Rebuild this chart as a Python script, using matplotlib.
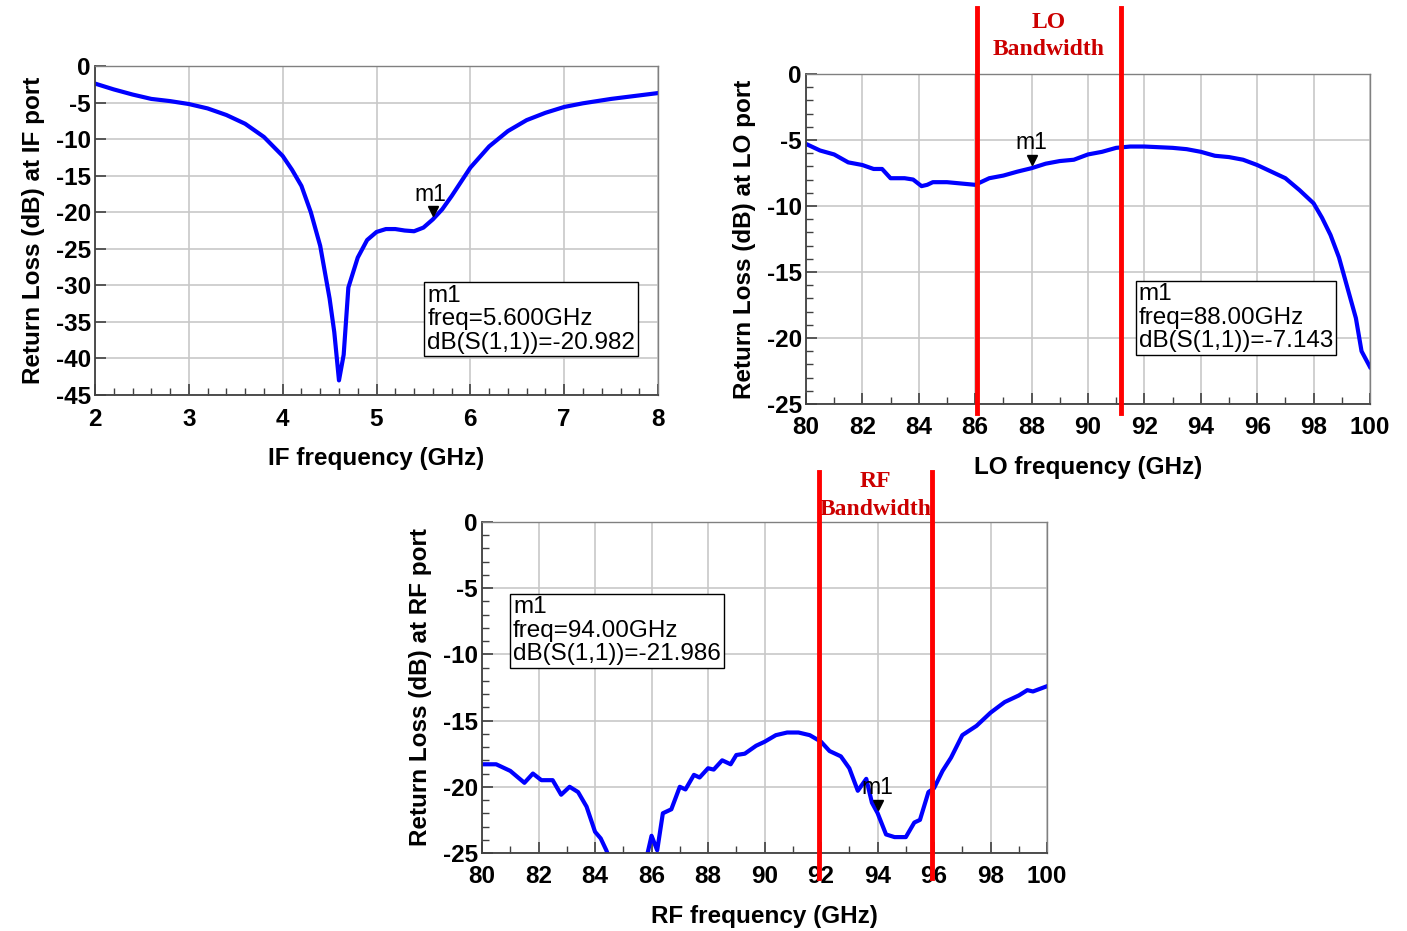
"""Return loss at the IF, LO and RF ports of the mixer, three panels."""
import matplotlib
matplotlib.use("Agg")
import matplotlib.pyplot as plt
import matplotlib.transforms as mtransforms
from matplotlib.ticker import MultipleLocator

plt.rcParams["font.family"] = ["Liberation Sans", "DejaVu Sans"]
plt.rcParams["axes.unicode_minus"] = False

# IF port, 2-8 GHz
if_freq = [2.0, 2.2, 2.4, 2.6, 2.8, 3.0, 3.2, 3.4, 3.6, 3.8, 4.0, 4.1, 4.2, 4.3,
           4.4, 4.5, 4.55, 4.6, 4.65, 4.7, 4.8, 4.9, 5.0, 5.1, 5.2, 5.3, 5.4,
           5.5, 5.6, 5.7, 5.8, 6.0, 6.2, 6.4, 6.6, 6.8, 7.0, 7.2, 7.5, 8.0]
if_db = [-2.4, -3.2, -3.9, -4.5, -4.8, -5.2, -5.8, -6.7, -7.9, -9.7, -12.3,
         -14.2, -16.4, -20.0, -24.6, -31.8, -36.4, -43.0, -39.5, -30.3, -26.2,
         -23.8, -22.7, -22.3, -22.3, -22.5, -22.6, -22.1, -20.98, -19.6, -17.8,
         -13.9, -11.0, -8.9, -7.4, -6.4, -5.6, -5.1, -4.5, -3.7]

# LO port, 80-100 GHz
lo_freq = [80.0, 80.5, 81.0, 81.5, 82.0, 82.4, 82.7, 83.0, 83.5, 83.8, 84.1,
           84.3, 84.5, 85.0, 85.5, 86.0, 86.5, 87.0, 87.5, 88.0, 88.5, 89.0,
           89.5, 90.0, 90.5, 91.0, 91.5, 92.0, 92.5, 93.0, 93.5, 94.0, 94.5,
           95.0, 95.5, 96.0, 96.5, 97.0, 97.5, 98.0, 98.3, 98.6, 98.9, 99.2,
           99.5, 99.7, 100.0]
lo_db = [-5.3, -5.8, -6.1, -6.7, -6.9, -7.2, -7.2, -7.9, -7.9, -8.0, -8.5,
         -8.4, -8.2, -8.2, -8.3, -8.4, -7.9, -7.7, -7.4, -7.14, -6.8, -6.6,
         -6.5, -6.1, -5.9, -5.6, -5.5, -5.5, -5.55, -5.6, -5.7, -5.9, -6.2,
         -6.3, -6.5, -6.9, -7.4, -7.9, -8.8, -9.8, -10.9, -12.2, -13.9, -16.2,
         -18.5, -21.0, -22.2]

# RF port, 80-100 GHz
rf_freq = [80.0, 80.5, 81.0, 81.5, 81.8, 82.1, 82.5, 82.8, 83.1, 83.4, 83.7,
           84.0, 84.2, 84.4, 84.7, 85.2, 85.7, 86.0, 86.2, 86.4, 86.7, 87.0,
           87.2, 87.5, 87.7, 88.0, 88.2, 88.5, 88.8, 89.0, 89.3, 89.7, 90.0,
           90.4, 90.8, 91.2, 91.6, 92.0, 92.3, 92.7, 93.0, 93.3, 93.6, 93.8,
           94.0, 94.3, 94.6, 95.0, 95.3, 95.5, 95.8, 96.0, 96.3, 96.6, 97.0,
           97.5, 98.0, 98.5, 99.0, 99.3, 99.5, 100.0]
rf_db = [-18.3, -18.3, -18.8, -19.7, -19.0, -19.5, -19.5, -20.6, -20.0, -20.4,
         -21.5, -23.4, -23.9, -24.8, -26.5, -28.0, -26.5, -23.7, -24.8, -22.0,
         -21.7, -20.0, -20.2, -19.1, -19.3, -18.6, -18.7, -18.0, -18.3, -17.6,
         -17.5, -16.9, -16.6, -16.1, -15.9, -15.9, -16.1, -16.6, -17.3, -17.7,
         -18.6, -20.3, -19.4, -21.2, -21.986, -23.6, -23.8, -23.8, -22.7, -22.5,
         -20.4, -20.1, -18.8, -17.8, -16.1, -15.4, -14.4, -13.6, -13.1, -12.7,
         -12.8, -12.4]

lo_band = [86.06, 91.17]
rf_band = [91.93, 95.93]

BLUE = "#0000ff"
RED = "#ff0000"
DARKRED = "#cc0000"


def style_axes(ax, xlim, ylim, xmajor, xminor, ymajor, yminor, xlabel, ylabel):
    ax.set_xlim(*xlim)
    ax.set_ylim(*ylim)
    ax.xaxis.set_major_locator(MultipleLocator(xmajor))
    ax.xaxis.set_minor_locator(MultipleLocator(xminor))
    ax.yaxis.set_major_locator(MultipleLocator(ymajor))
    if yminor:
        ax.yaxis.set_minor_locator(MultipleLocator(yminor))
    ax.grid(True, which="major", color="#c8c8c8", linewidth=1.2)
    ax.set_axisbelow(True)
    ax.tick_params(which="both", direction="in", top=False, right=False,
                   color="#404040", labelsize=17.5)
    ax.tick_params(axis="x", pad=9)
    ax.tick_params(axis="y", pad=3)
    ax.tick_params(which="major", length=8, width=1.2)
    ax.tick_params(which="minor", length=5, width=1.0)
    for lbl in ax.get_xticklabels() + ax.get_yticklabels():
        lbl.set_fontweight("bold")
    for side in ("left", "bottom"):
        ax.spines[side].set_color("#404040")
        ax.spines[side].set_linewidth(1.3)
    for side in ("top", "right"):
        ax.spines[side].set_color("#808080")
        ax.spines[side].set_linewidth(1.0)
    ax.set_xlabel(xlabel, fontsize=17.5, fontweight="bold", labelpad=12)
    ax.set_ylabel(ylabel, fontsize=17.5, fontweight="bold", labelpad=8)


def marker(ax, x, y, dx, dy):
    ax.plot([x], [y], marker="v", color="black", markersize=7,
            transform=ax.transData + mtransforms.ScaledTranslation(0, 6 / 72, ax.figure.dpi_scale_trans))
    ax.annotate("m1", (x, y), xytext=(dx, dy), textcoords="offset points",
                fontsize=16.5, ha="center", va="bottom")


def readout(ax, xy, lines):
    ax.text(xy[0], xy[1], "\n".join(lines), transform=ax.transAxes,
            fontsize=17.5, va="top", ha="left", linespacing=1.08,
            bbox=dict(boxstyle="square,pad=0.12", facecolor="white",
                      edgecolor="black", linewidth=1.0))


def band(ax, xs, y0, y1, label, ytext):
    trans = mtransforms.blended_transform_factory(ax.transData, ax.transAxes)
    for x in xs:
        ax.plot([x, x], [y0, y1], color=RED, linewidth=3.5, transform=trans,
                clip_on=False, zorder=5)
    ax.text(sum(xs) / 2, ytext, label, transform=trans, ha="center",
            va="center", color=DARKRED, fontsize=17, fontweight="bold",
            family=["Liberation Serif", "DejaVu Serif"], linespacing=1.4)


fig = plt.figure(figsize=(14.07, 9.31), dpi=100)

ax_if = fig.add_axes([0.0675, 0.5757, 0.4002, 0.3534])
ax_if.plot(if_freq, if_db, color=BLUE, linewidth=3)
style_axes(ax_if, (2, 8), (-45, 0), 1, 0.2, 5, None,
           "IF frequency (GHz)", "Return Loss (dB) at IF port")
marker(ax_if, 5.6, -20.982, -2, 10)
readout(ax_if, (0.59, 0.335), ["m1", "freq=5.600GHz", "dB(S(1,1))=-20.982"])

ax_lo = fig.add_axes([0.5728, 0.5661, 0.4009, 0.3545])
ax_lo.plot(lo_freq, lo_db, color=BLUE, linewidth=3)
style_axes(ax_lo, (80, 100), (-25, 0), 2, 1, 5, 1,
           "LO frequency (GHz)", "Return Loss (dB) at LO port")
marker(ax_lo, 88.0, -7.143, 0, 10)
readout(ax_lo, (0.59, 0.365), ["m1", "freq=88.00GHz", "dB(S(1,1))=-7.143"])
band(ax_lo, lo_band, -0.027, 1.2, "LO\nBandwidth", 1.115)

ax_rf = fig.add_axes([0.3426, 0.0838, 0.4016, 0.3555])
ax_rf.plot(rf_freq, rf_db, color=BLUE, linewidth=3)
style_axes(ax_rf, (80, 100), (-25, 0), 2, 1, 5, 1,
           "RF frequency (GHz)", "Return Loss (dB) at RF port")
marker(ax_rf, 94.0, -21.986, 0, 10)
readout(ax_rf, (0.055, 0.775), ["m1", "freq=94.00GHz", "dB(S(1,1))=-21.986"])
band(ax_rf, rf_band, -0.076, 1.151, "RF\nBandwidth", 1.08)

fig.savefig("out.png", dpi=100)
